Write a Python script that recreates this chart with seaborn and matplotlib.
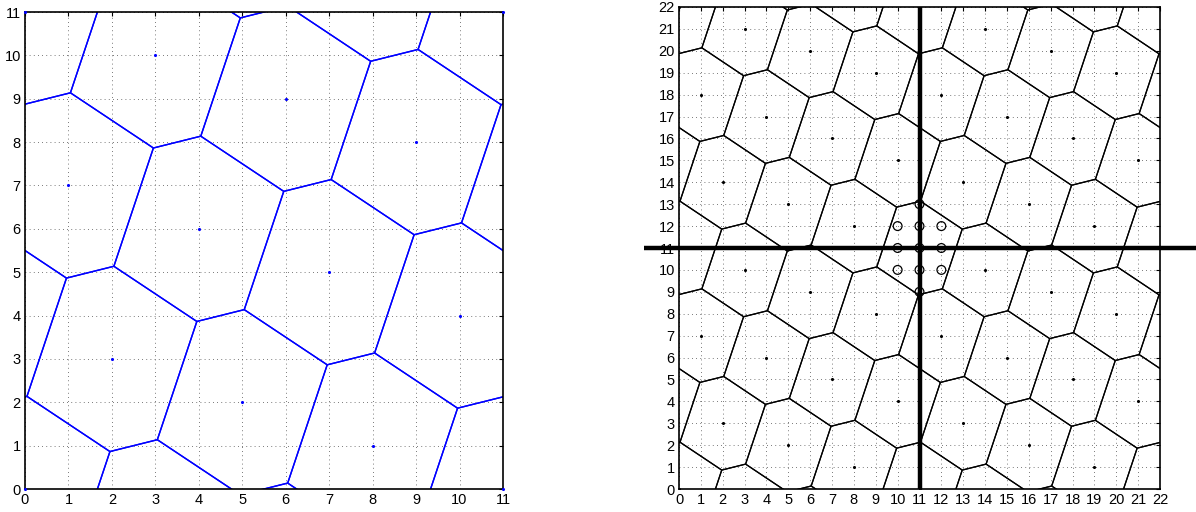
import numpy as np
import pandas as pd
import matplotlib
matplotlib.use("Agg")
import matplotlib.pyplot as plt
import seaborn as sns
from matplotlib.collections import LineCollection

# ---- data ----
period = 11
base_x = [0, 1, 2, 3, 4, 5, 6, 7, 8, 9, 10]
base_y = [0, 7, 3, 10, 6, 2, 9, 5, 1, 8, 4]
circle_x = [10, 10, 10, 11, 11, 11, 11, 11, 12, 12, 12]
circle_y = [10, 11, 12, 9, 10, 11, 12, 13, 10, 11, 12]
left_ticks = list(range(0, 12))
right_ticks = list(range(0, 23))
cross_at = 11
cross_h_span = [-1.6, 24.0]


def tile(lo, hi):
    pts = set()
    for i in range(-3, 5):
        for j in range(-3, 5):
            for x, y in zip(base_x, base_y):
                px, py = x + period * i, y + period * j
                if lo <= px <= hi and lo <= py <= hi:
                    pts.add((px, py))
    return np.array(sorted(pts), dtype=float)


def clip(poly, n, c):
    out = []
    m = len(poly)
    for k in range(m):
        a = poly[k]
        b = poly[(k + 1) % m]
        da = a @ n - c
        db = b @ n - c
        if da <= 0:
            out.append(a)
        if da * db < 0:
            t = da / (da - db)
            out.append(a + t * (b - a))
    return out


# Voronoi cell of the lattice at the origin
near = tile(-6, 6)
cell = [np.array(p, float) for p in [(-6, -6), (6, -6), (6, 6), (-6, 6)]]
for v in near:
    if v[0] == 0 and v[1] == 0:
        continue
    cell = clip(cell, v, (v @ v) / 2.0)
cell = np.array(cell)


def segments(lo, hi):
    segs = []
    for p in tile(lo, hi):
        poly = cell + p
        for k in range(len(poly)):
            segs.append([poly[k], poly[(k + 1) % len(poly)]])
    return segs


sns.set_style("white")
plt.rcParams['font.family'] = ['Liberation Sans', 'DejaVu Sans']

fig = plt.figure(figsize=(11.96, 5.12), dpi=100)
axL = fig.add_axes([0.02090, 0.04492, 0.39967, 0.93164])
axR = fig.add_axes([0.56773, 0.04492, 0.40217, 0.94141])


def style(ax, ticks):
    lim = ticks[-1]
    ax.set_xlim(0, lim)
    ax.set_ylim(0, lim)
    ax.set_xticks(ticks)
    ax.set_yticks(ticks)
    ax.set_xticklabels([str(t) for t in ticks])
    ax.set_yticklabels([str(t) for t in ticks])
    ax.grid(True, color='0.3', linestyle=(0, (1, 4)), linewidth=0.6)
    ax.set_axisbelow(True)
    ax.tick_params(direction='in', length=3, width=0.8, top=True, right=True,
                   labelsize=10.5, pad=3, colors='black')
    for s in ax.spines.values():
        s.set_visible(True)
        s.set_color('black')
        s.set_linewidth(1.2)
    ax.set_xlabel('')
    ax.set_ylabel('')


# ---- left panel ----
lc = LineCollection(segments(-4, 15), colors=(0, 0, 1), linewidths=1.0)
axL.add_collection(lc)
ptsL = tile(0, 11)
dfL = pd.DataFrame({'x': ptsL[:, 0], 'y': ptsL[:, 1]})
sns.scatterplot(data=dfL, x='x', y='y', ax=axL, s=5, color=(0, 0, 1),
                linewidth=0, zorder=3, clip_on=False)
style(axL, left_ticks)

# ---- right panel ----
lc2 = LineCollection(segments(-4, 26), colors='black', linewidths=0.9)
axR.add_collection(lc2)
ptsR = tile(0, 22)
dfR = pd.DataFrame({'x': ptsR[:, 0], 'y': ptsR[:, 1]})
sns.scatterplot(data=dfR, x='x', y='y', ax=axR, s=5, color='black',
                linewidth=0, zorder=3)
dfC = pd.DataFrame({'x': circle_x, 'y': circle_y})
axR.scatter(dfC['x'], dfC['y'], s=40, facecolors='none', edgecolors='black',
            linewidths=0.9, zorder=4)
axR.plot([cross_at, cross_at], [0, 22], color='black', lw=3.2, zorder=5,
         solid_capstyle='butt')
axR.plot(cross_h_span, [cross_at, cross_at], color='black', lw=3.2, zorder=5,
         clip_on=False, solid_capstyle='butt')
style(axR, right_ticks)

fig.savefig('out.png', dpi=100)
